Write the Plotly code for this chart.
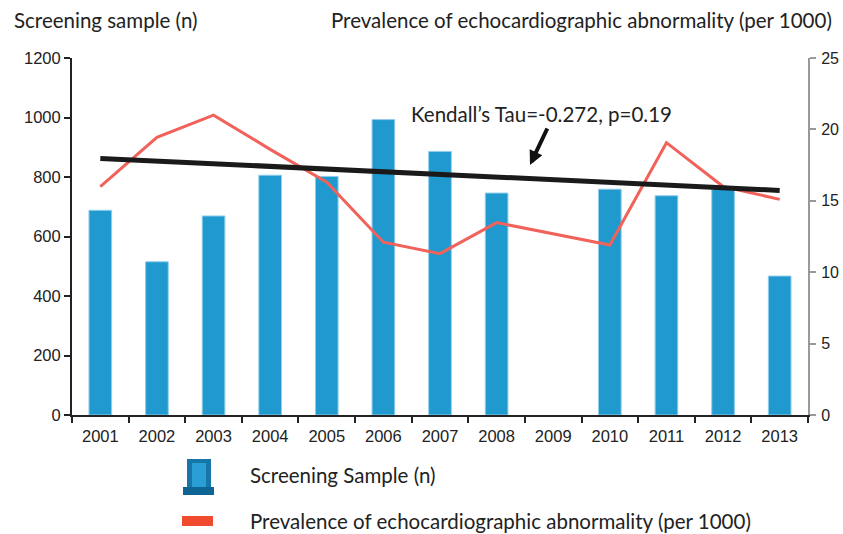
import plotly.graph_objects as go

years = ["2001", "2002", "2003", "2004", "2005", "2006", "2007",
         "2008", "2009", "2010", "2011", "2012", "2013"]
screening = [688, 515, 669, 806, 802, 993, 886, 746, None, 759, 737, 759, 467]
prevalence = [16.0, 19.45, 21.0, 18.6, 16.3, 12.1, 11.3, 13.47, None, 11.9, 19.07, 16.0, 15.1]
trend_x = ["2001", "2013"]
trend_y = [17.97, 15.73]
left_ticks = [0, 200, 400, 600, 800, 1000, 1200]
right_ticks = [0, 5, 10, 15, 20, 25]

W, H = 843, 534
L, R, T, B = 72, 35, 58, 119
pw, ph = W - L - R, H - T - B


def px(x):
    return (x - L) / pw


def py(y):
    return (H - B - y) / ph


fig = go.Figure()
fig.add_trace(go.Bar(
    x=years, y=screening, name="Screening Sample (n)",
    marker=dict(color="#1F99CE", line=dict(color="#8FCDEB", width=1)),
    width=0.4, showlegend=False))
fig.add_trace(go.Scatter(
    x=years, y=prevalence, yaxis="y2", mode="lines", connectgaps=True,
    line=dict(color="#F0625A", width=3), showlegend=False))
fig.add_trace(go.Scatter(
    x=trend_x, y=trend_y, yaxis="y2", mode="lines",
    line=dict(color="#1A1A1A", width=5), showlegend=False))

tickfont = dict(family="Liberation Sans, Arial", size=16.5, color="#222")
rtickfont = dict(family="Liberation Sans, Arial", size=16, color="#222")
txtfont = dict(family="Lato, Open Sans", size=20.5, color="#222")

fig.update_layout(
    width=W, height=H, margin=dict(l=L, r=R, t=T, b=B, autoexpand=False),
    paper_bgcolor="white", plot_bgcolor="white",
    xaxis=dict(type="category", tickson="boundaries", ticks="outside",
               ticklen=6, tickwidth=1.5, tickcolor="#222",
               showline=True, linecolor="#222", linewidth=2,
               showgrid=False, tickfont=tickfont, range=[-0.5, 12.5],
               ticklabelstandoff=5, automargin=False),
    yaxis=dict(range=[0, 1200], tickvals=left_ticks, ticks="outside",
               ticklen=6, tickwidth=1.5, tickcolor="#222",
               showline=True, linecolor="#222", linewidth=2,
               showgrid=False, zeroline=False, tickfont=tickfont,
               automargin=False, ticklabeloverflow="allow"),
    yaxis2=dict(range=[0, 25], tickvals=right_ticks, overlaying="y",
                side="right", ticks="outside", ticklen=6, tickwidth=1.5,
                tickcolor="#999", showline=True, linecolor="#999",
                linewidth=2, showgrid=False, zeroline=False,
                tickfont=rtickfont, ticklabelstandoff=2, automargin=False,
                ticklabeloverflow="allow"),
)

ann = [
    dict(text="Screening sample (n)", x=px(12), y=py(20), xanchor="left",
         yanchor="middle"),
    dict(text="Prevalence of echocardiographic abnormality (per 1000)",
         x=px(329), y=py(20), xanchor="left", yanchor="middle"),
    dict(text="Kendall\u2019s Tau=-0.272, p=0.19", x=px(541), y=py(114),
         xanchor="center", yanchor="middle"),
    dict(text="Screening Sample (n)", x=px(248), y=py(475), xanchor="left",
         yanchor="middle"),
    dict(text="Prevalence of echocardiographic abnormality (per 1000)",
         x=px(248), y=py(521), xanchor="left", yanchor="middle"),
]
for a in ann:
    fig.add_annotation(xref="paper", yref="paper", showarrow=False,
                       font=txtfont, **a)

fig.add_annotation(xref="paper", yref="paper", x=px(530), y=py(165),
                   ax=18, ay=-38, text="", showarrow=True, arrowhead=2,
                   arrowsize=0.7, arrowwidth=4, arrowcolor="#111")

shapes = [
    dict(type="rect", x0=px(187), x1=px(211), y0=py(459), y1=py(488),
         fillcolor="#1676A8", line=dict(width=0)),
    dict(type="rect", x0=px(192), x1=px(206), y0=py(463), y1=py(488),
         fillcolor="#2A9FD6", line=dict(width=0)),
    dict(type="rect", x0=px(183), x1=px(214), y0=py(487), y1=py(495),
         fillcolor="#0E6593", line=dict(width=0)),
    dict(type="rect", x0=px(182), x1=px(213), y0=py(516), y1=py(526),
         fillcolor="#F04A2F", line=dict(width=0)),
]
for s in shapes:
    fig.add_shape(xref="paper", yref="paper", **s)

fig.write_html(
    "out.html",
    config={"displayModeBar": False},
    post_script="document.body.style.margin='0';"
                "document.body.style.overflow='hidden';")
